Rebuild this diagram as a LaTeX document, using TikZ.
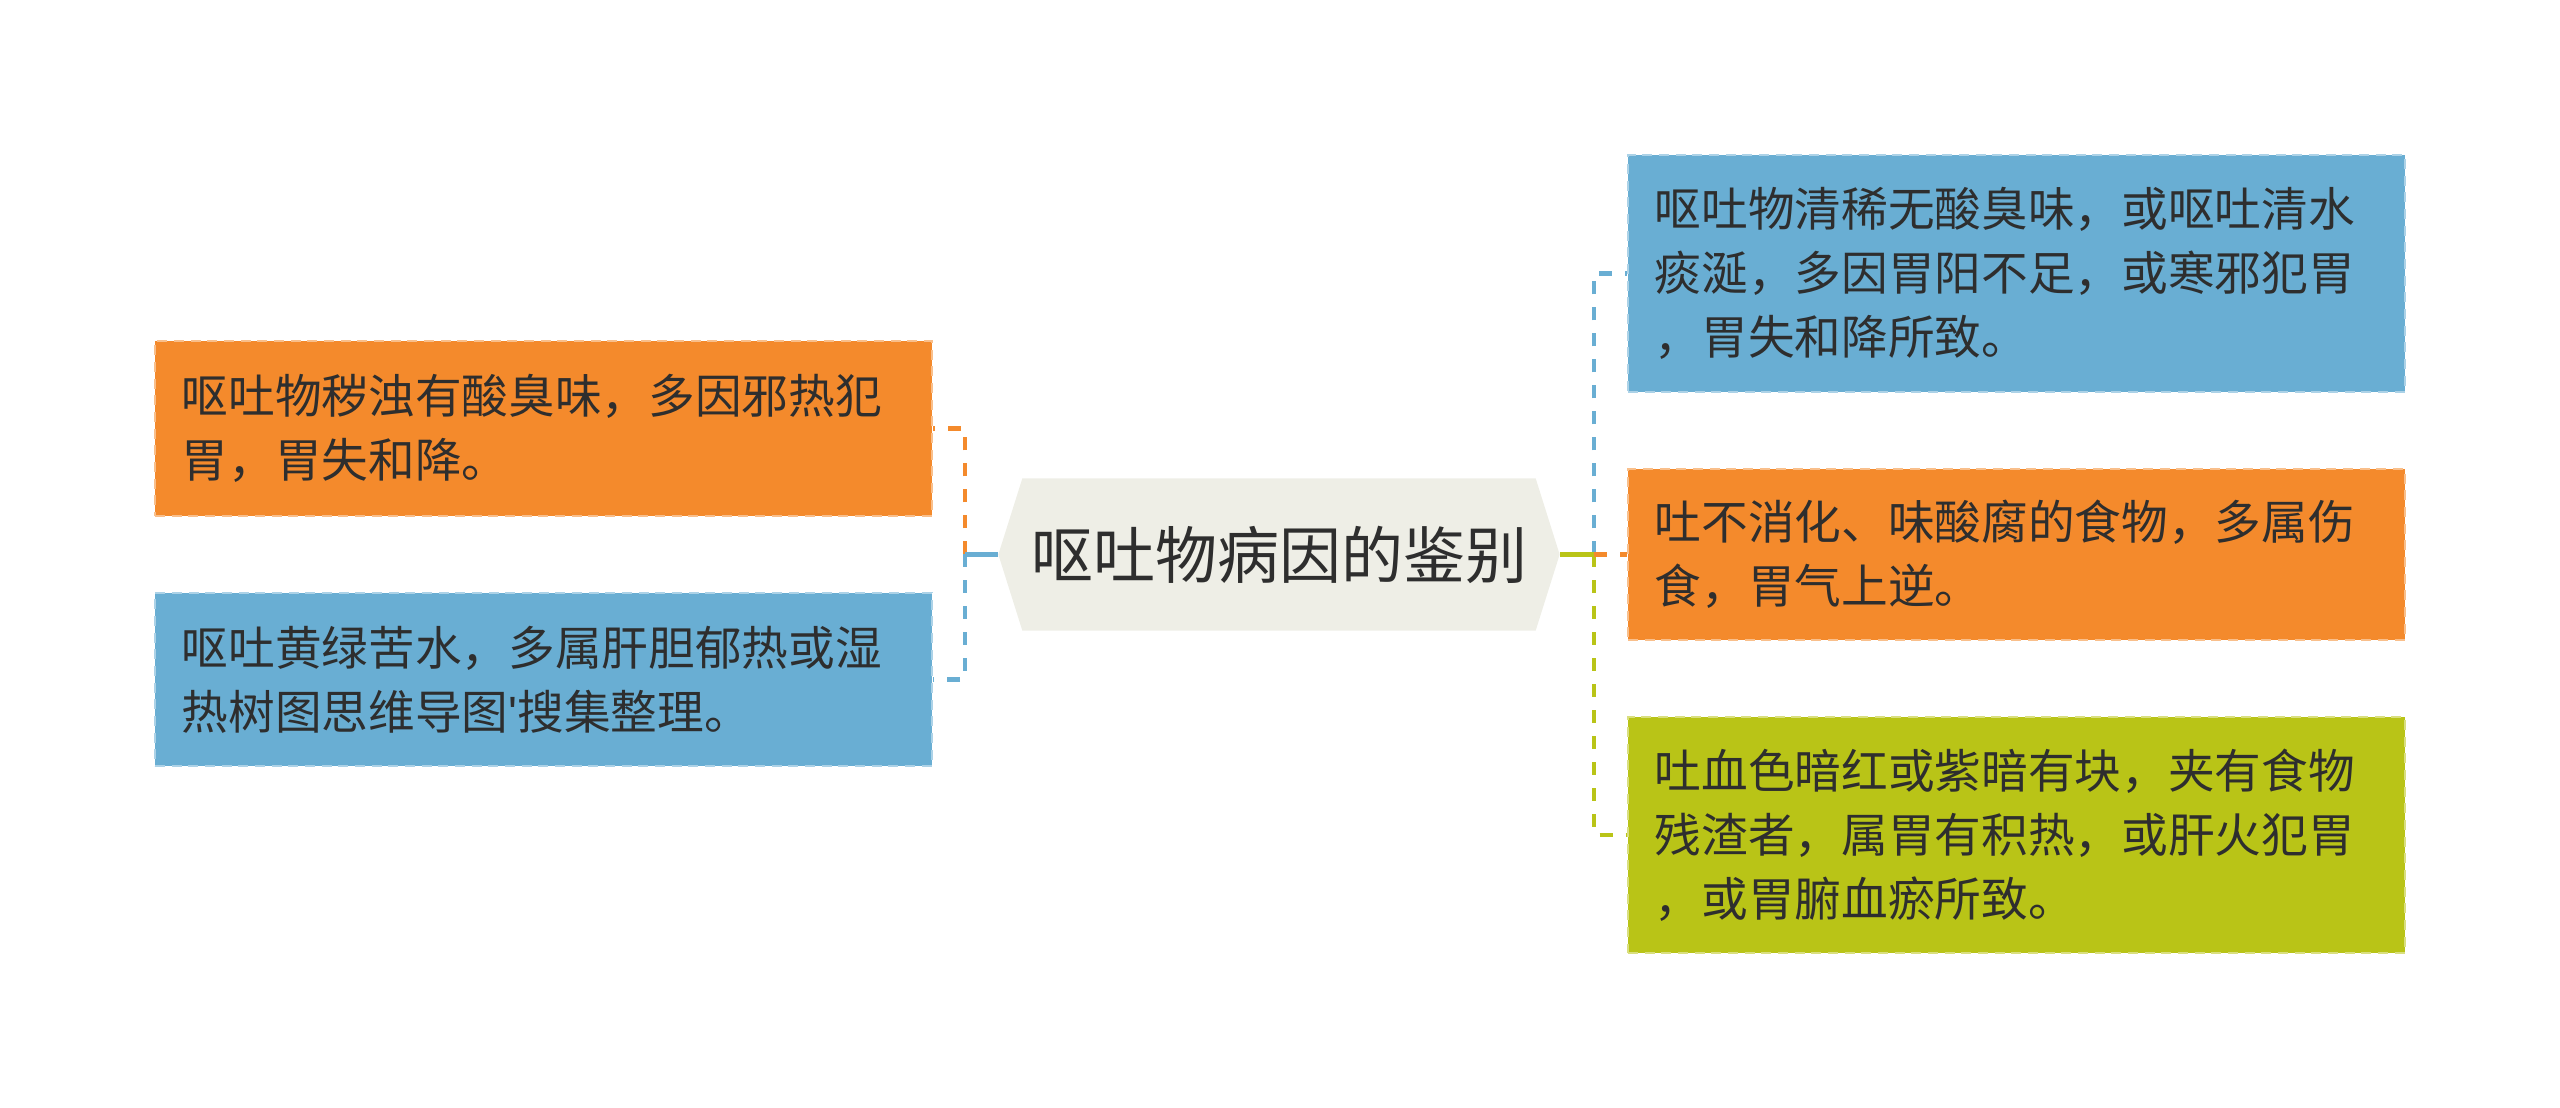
\documentclass[tikz,border=0pt]{standalone}
\usepackage{fontspec}
\setmainfont{Noto Sans CJK SC}
\newfontfamily\quotefont[Ligatures=ResetAll]{Liberation Sans}
\usetikzlibrary{calc,backgrounds}
\definecolor{corange}{HTML}{F48A2C}
\definecolor{cblue}{HTML}{69AED3}
\definecolor{cgreen}{HTML}{B9C417}
\definecolor{chex}{HTML}{EEEEE6}
\definecolor{ctext}{HTML}{2E2E2E}
\tikzset{
  leaf/.style={rectangle, fill=#1, draw=#1!55!white, line width=0.6pt,
    dash pattern=on 3pt off 2pt, text=ctext, align=left,
    minimum width=233.1pt, text width=217pt, inner xsep=8pt, inner ysep=0pt,
    font=\fontsize{14}{19.2}\selectfont},
  conn/.style={draw=#1, line width=1.4pt, dash pattern=on 3.9pt off 3.9pt},
  trunk/.style={draw=#1, line width=1.4pt},
}
\begin{document}
\begin{tikzpicture}[x=0.3pt,y=-0.3pt]
\useasboundingbox (0,0) rectangle (2560,1108);
\node[minimum width=153.6pt, minimum height=45.3pt, inner sep=0pt, text=ctext,
  font=\fontsize{18.6}{22}\selectfont] (c) at (1279,554.5) {呕吐物病因的鉴别};
\coordinate (tipL) at ($(c.west)+(-24,0)$);
\coordinate (tipR) at ($(c.east)+(24,0)$);
\begin{scope}[on background layer]
\fill[chex] (c.north west) -- (c.north east) -- (tipR) -- (c.south east) -- (c.south west) -- (tipL) -- cycle;
\end{scope}

\node[leaf=corange, minimum height=52.5pt] (o1) at (543.5,428.5) {呕吐物秽浊有酸臭味，多因邪热犯\\胃，胃失和降。};
\node[leaf=cblue, minimum height=51.9pt] (b1) at (543.5,679.5) {呕吐黄绿苦水，多属肝胆郁热或湿\\热树图思维导图{\quotefont'}搜集整理。};

\node[leaf=cblue, minimum height=71.1pt] (b2) at (2016.5,273.5) {呕吐物清稀无酸臭味，或呕吐清水\\痰涎，多因胃阳不足，或寒邪犯胃\\，胃失和降所致。};
\node[leaf=corange, minimum height=51.3pt] (o2) at (2016.5,554.5) {吐不消化、味酸腐的食物，多属伤\\食，胃气上逆。};
\node[leaf=cgreen, minimum height=70.8pt] (g2) at (2016.5,835) {吐血色暗红或紫暗有块，夹有食物\\残渣者，属胃有积热，或肝火犯胃\\，或胃腑血瘀所致。};

\coordinate (jL) at (965,554.5);
\coordinate (jR) at (1594,554.5);

\draw[conn=corange] (jL) |- (o1.east);
\draw[conn=cblue] (jL) |- (b1.east);
\draw[trunk=cblue] (tipL) -- (jL);

\draw[conn=cblue] (jR) |- (b2.west);
\draw[conn=cgreen] (jR) |- (g2.west);
\draw[trunk=cgreen] (tipR) -- (jR);
\draw[conn=corange] (jR) -- (o2.west);
\end{tikzpicture}
\end{document}
